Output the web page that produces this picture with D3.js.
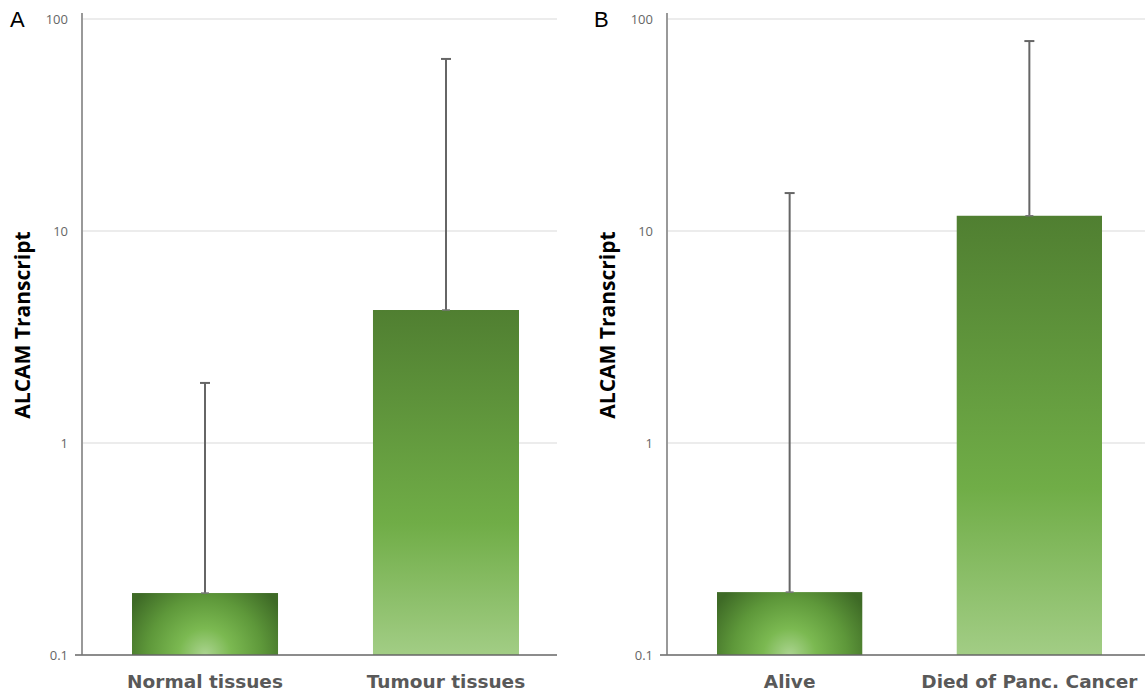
<!DOCTYPE html>
<html><head><meta charset="utf-8">
<script src="https://cdn.jsdelivr.net/npm/d3@7"></script>
<style>body{margin:0;background:#fff}svg{display:block}</style>
</head><body>
<svg id="c" width="1145" height="694"></svg>
<script>
const panelLabels = ["A", "B"];
const categoriesA = ["Normal tissues", "Tumour tissues"];
const meansA = [0.196, 4.24];
const upperA = [1.92, 64.8];
const categoriesB = ["Alive", "Died of Panc. Cancer"];
const meansB = [0.198, 11.8];
const upperB = [15.1, 78.7];
const tickValues = [0.1, 1, 10, 100];
const tickLabels = ["0.1", "1", "10", "100"];
const yTitle = "ALCAM Transcript";

const svg = d3.select("#c");
const defs = svg.append("defs");
const lin = defs.append("linearGradient").attr("id","gLin").attr("x1",0).attr("y1",0).attr("x2",0).attr("y2",1);
lin.append("stop").attr("offset","0").attr("stop-color","#507f31");
lin.append("stop").attr("offset","0.62").attr("stop-color","#70ad47");
lin.append("stop").attr("offset","1").attr("stop-color","#a2cd85");

const y = d3.scaleLog().domain([0.1, 100]).range([655, 19]);

const panels = [
  {id: "a", label: panelLabels[0], cats: categoriesA, means: meansA, upper: upperA, axisX: 82, right: 557, labelX: 10, bands: [132, 519]},
  {id: "b", label: panelLabels[1], cats: categoriesB, means: meansB, upper: upperB, axisX: 667, right: 1145, labelX: 594, bands: [717, 1102]}
];

panels.forEach(p => {
  const g = svg.append("g");
  const x = d3.scaleBand().domain(p.cats).range(p.bands).paddingInner(0.394).paddingOuter(0);
  const rad = defs.append("radialGradient").attr("id", "gRad" + p.id).attr("gradientUnits", "userSpaceOnUse")
    .attr("cx", x(p.cats[0]) + x.bandwidth()/2).attr("cy", y(0.1)).attr("r", 88)
    .attr("fx", x(p.cats[0]) + x.bandwidth()/2).attr("fy", y(0.1));
  rad.append("stop").attr("offset","0").attr("stop-color","#abd490");
  rad.append("stop").attr("offset","0.3").attr("stop-color","#7bb951");
  rad.append("stop").attr("offset","0.65").attr("stop-color","#5e983a");
  rad.append("stop").attr("offset","1").attr("stop-color","#3e6a26");
  g.selectAll(".grid").data(tickValues.slice(1)).join("line")
    .attr("x1", p.axisX + 1).attr("x2", p.right)
    .attr("y1", d => y(d)).attr("y2", d => y(d))
    .attr("stroke", "#d9d9d9").attr("stroke-width", 1.2);
  g.selectAll(".bar").data(p.cats).join("rect")
    .attr("x", d => x(d)).attr("width", x.bandwidth())
    .attr("y", (d,i) => y(p.means[i]))
    .attr("height", (d,i) => y(0.1) - y(p.means[i]))
    .attr("fill", (d,i) => i === 0 ? `url(#gRad${p.id})` : "url(#gLin)");
  g.selectAll(".err").data(p.cats).join("line")
    .attr("x1", d => x(d) + x.bandwidth()/2).attr("x2", d => x(d) + x.bandwidth()/2)
    .attr("y1", (d,i) => y(p.means[i])).attr("y2", (d,i) => y(p.upper[i]))
    .attr("stroke", "#666").attr("stroke-width", 2);
  g.selectAll(".cap").data(p.cats).join("line")
    .attr("x1", d => x(d) + x.bandwidth()/2 - 5).attr("x2", d => x(d) + x.bandwidth()/2 + 5)
    .attr("y1", (d,i) => y(p.upper[i])).attr("y2", (d,i) => y(p.upper[i]))
    .attr("stroke", "#666").attr("stroke-width", 2);
  g.selectAll(".cap2").data(p.cats).join("line")
    .attr("x1", d => x(d) + x.bandwidth()/2 - 4).attr("x2", d => x(d) + x.bandwidth()/2 + 4)
    .attr("y1", (d,i) => y(p.means[i])).attr("y2", (d,i) => y(p.means[i]))
    .attr("stroke", "#777").attr("stroke-width", 1.5);
  g.append("line").attr("x1", p.axisX - 7).attr("x2", p.right)
    .attr("y1", y(0.1)).attr("y2", y(0.1)).attr("stroke", "#666").attr("stroke-width", 1.5);
  const ya = d3.axisLeft(y).tickValues(tickValues).tickFormat((d,i) => tickLabels[i]).tickSize(0).tickPadding(14);
  const ag = g.append("g").attr("transform", `translate(${p.axisX},0)`).call(ya);
  ag.select(".domain").attr("d", `M0,13V${y(0.1)}`).attr("stroke", "#777").attr("stroke-width", 1.5);
  ag.selectAll("text").attr("fill", "#666").attr("font-family", "'Open Sans', sans-serif").attr("font-size", 13);
  g.append("text").attr("transform", `translate(${p.axisX - 52},325) rotate(-90)`)
    .attr("text-anchor", "middle").attr("font-family", "'Open Sans', sans-serif")
    .attr("font-weight", "bold").attr("font-size", 21).attr("fill", "#000").text(yTitle);
  g.selectAll(".xl").data(p.cats).join("text")
    .attr("x", d => x(d) + x.bandwidth()/2).attr("y", 688)
    .attr("text-anchor", "middle").attr("font-family", "'DejaVu Sans', sans-serif")
    .attr("font-weight", "bold").attr("font-size", 18.5).attr("fill", "#595959").text(d => d);
  g.append("text").attr("x", p.labelX).attr("y", 27).attr("font-family", "'Liberation Sans', Arial, sans-serif")
    .attr("font-size", 22).attr("fill", "#000").text(p.label);
});
</script>
</body></html>
